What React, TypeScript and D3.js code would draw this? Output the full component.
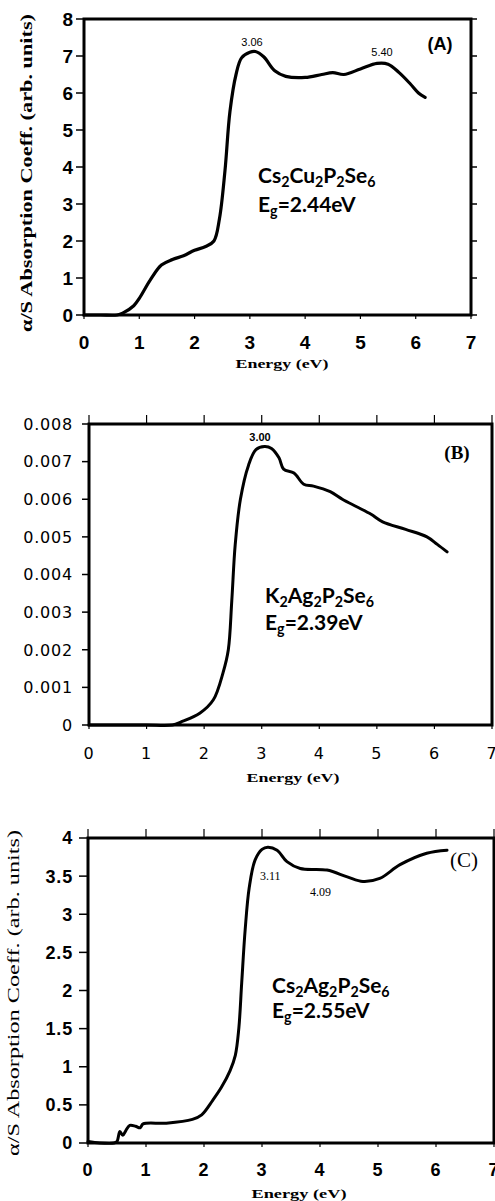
import React from 'react'
import * as d3 from 'd3'

// Panel A: Cs2Cu2P2Se6
const energyA = [0, 0.3, 0.6, 0.7, 0.9, 1.0, 1.2, 1.4, 1.6, 1.8, 2.0, 2.2, 2.35, 2.45, 2.55, 2.64, 2.75, 2.85, 3.0, 3.1, 3.25, 3.45, 3.65, 4.0, 4.3, 4.5, 4.7, 5.0, 5.3, 5.5, 5.7, 5.9, 6.05, 6.17]
const absorbA = [0, 0, 0, 0.05, 0.25, 0.45, 0.95, 1.35, 1.5, 1.6, 1.75, 1.85, 2.0, 2.6, 3.9, 5.5, 6.5, 6.95, 7.1, 7.12, 6.98, 6.6, 6.45, 6.42, 6.5, 6.55, 6.5, 6.65, 6.8, 6.78, 6.55, 6.25, 6.0, 5.88]

// Panel B: K2Ag2P2Se6
const energyB = [0, 0.5, 1.0, 1.45, 1.6, 1.93, 2.16, 2.33, 2.42, 2.48, 2.54, 2.63, 2.77, 2.9, 3.05, 3.17, 3.3, 3.38, 3.56, 3.73, 3.9, 4.19, 4.4, 4.65, 4.9, 5.1, 5.5, 5.87, 6.05, 6.22]
const absorbB = [0, 0, 0, 0, 0.00008, 0.00032, 0.00067, 0.0014, 0.002, 0.0033, 0.0048, 0.006, 0.0069, 0.00732, 0.0074, 0.00735, 0.0071, 0.0068, 0.0067, 0.0064, 0.00635, 0.0062, 0.006, 0.0058, 0.0056, 0.0054, 0.0052, 0.005, 0.0048, 0.0046]

// Panel C: Cs2Ag2P2Se6
const energyC = [0, 0.2, 0.45, 0.5, 0.55, 0.6, 0.65, 0.72, 0.82, 0.9, 0.95, 1.35, 1.8, 1.96, 2.15, 2.3, 2.45, 2.54, 2.6, 2.65, 2.71, 2.78, 2.88, 3.0, 3.1, 3.26, 3.43, 3.66, 4.12, 4.47, 4.74, 5.03, 5.38, 5.84, 6.19]
const absorbC = [0.02, 0, 0, 0.02, 0.15, 0.1, 0.16, 0.23, 0.22, 0.2, 0.25, 0.26, 0.31, 0.37, 0.56, 0.73, 0.95, 1.15, 1.5, 2.1, 2.8, 3.35, 3.71, 3.85, 3.88, 3.84, 3.69, 3.6, 3.58, 3.49, 3.43, 3.47, 3.65, 3.8, 3.84]

const ticksX = [0, 1, 2, 3, 4, 5, 6, 7]
const ticksYA = [0, 1, 2, 3, 4, 5, 6, 7, 8]
const ticksYB = [0, 0.001, 0.002, 0.003, 0.004, 0.005, 0.006, 0.007, 0.008]
const labelsYB = ['0', '0.001', '0.002', '0.003', '0.004', '0.005', '0.006', '0.007', '0.008']
const ticksYC = [0, 0.5, 1, 1.5, 2, 2.5, 3, 3.5, 4]
const labelsYC = ['0', '0.5', '1', '1.5', '2', '2.5', '3', '3.5', '4']

const yTitle = 'α/S Absorption Coeff. (arb. units)'
const xTitle = 'Energy (eV)'

const sans = "'Liberation Sans', Arial, sans-serif"
const serif = "'Liberation Serif', 'Times New Roman', serif"
const humanist = "Lato, 'Open Sans', sans-serif"

const Formula = ({ x, y, parts, size }) => (
  <text x={x} y={y} fontFamily={humanist} fontWeight={700} fontSize={size}>
    {parts.map((p, i) =>
      p.sub ? (
        <tspan key={i} fontSize={size * 0.68} dy={4}>{p.t}</tspan>
      ) : (
        <tspan key={i} dy={i > 0 && parts[i - 1].sub ? -4 : 0}>{p.t}</tspan>
      )
    )}
  </text>
)

const Panel = (props) => {
  const { energy, absorb, xr, yr, ymax, ticksY, labelsY, yLabelStyle, xLabelY, xLabelStyle,
    topTicks, rightTicks, leftTickLen, lineW } = props
  const x = d3.scaleLinear().domain([0, 7]).range(xr)
  const y = d3.scaleLinear().domain([0, ymax]).range(yr)
  const line = d3.line().x((d) => x(d[0])).y((d) => y(d[1])).curve(d3.curveCatmullRom.alpha(0.5))
  const pts = energy.map((e, i) => [e, absorb[i]])
  return (
    <g>
      <path d={line(pts)} fill="none" stroke="#000" strokeWidth={lineW} strokeLinejoin="round" strokeLinecap="round" />
      <rect x={xr[0]} y={yr[1]} width={xr[1] - xr[0]} height={yr[0] - yr[1]} fill="none" stroke="#000" strokeWidth={3} />
      {ticksY.map((t, i) => (
        <g key={'y' + i}>
          <line x1={xr[0] - leftTickLen} x2={xr[0]} y1={y(t)} y2={y(t)} stroke="#000" strokeWidth={1.5} />
          {rightTicks && <line x1={xr[1]} x2={xr[1] + 6} y1={y(t)} y2={y(t)} stroke="#000" strokeWidth={1.5} />}
          <text x={73} y={y(t)} dy="0.36em" textAnchor="end" {...yLabelStyle}>{labelsY ? labelsY[i] : t}</text>
        </g>
      ))}
      {ticksX.map((t) => (
        <g key={'x' + t}>
          <line x1={x(t)} x2={x(t)} y1={yr[0]} y2={yr[0] + 4} stroke="#000" strokeWidth={1.2} />
          {topTicks && <line x1={x(t)} x2={x(t)} y1={yr[1]} y2={yr[1] - 9} stroke="#000" strokeWidth={1.2} />}
          <text x={x(t)} y={xLabelY} dy="0.36em" textAnchor="middle" {...xLabelStyle}>{t}</text>
        </g>
      ))}
    </g>
  )
}

export default function App() {
  const tickA = { fontFamily: sans, fontWeight: 700, fontSize: 19 }
  const tickB = { fontFamily: "'DejaVu Sans', sans-serif", fontSize: 16, letterSpacing: 0.8 }
  const tickC = { fontFamily: sans, fontWeight: 700, fontSize: 18, letterSpacing: 0.8 }
  return (
    <svg width={495} height={1201} style={{ position: 'absolute', left: 0, top: 0, background: '#fff' }}>
      <rect width={495} height={1201} fill="#fff" />

      {/* Panel A */}
      <Panel energy={energyA} absorb={absorbA} xr={[84, 471]} yr={[315, 19]} ymax={8}
        ticksY={ticksYA} yLabelStyle={tickA} xLabelY={342} xLabelStyle={tickA}
        rightTicks leftTickLen={8} lineW={3.2} />
      <text transform="translate(32,173) rotate(-90)" textAnchor="middle" fontFamily={serif} fontWeight={700}
        fontSize={17} textLength={318} lengthAdjust="spacingAndGlyphs">{yTitle}</text>
      <text x={282} y={368} textAnchor="middle" fontFamily={serif} fontWeight={700} fontSize={13}
        textLength={93} lengthAdjust="spacingAndGlyphs">{xTitle}</text>
      <text x={252} y={46} textAnchor="middle" fontFamily={sans} fontSize={11}>3.06</text>
      <text x={382} y={56} textAnchor="middle" fontFamily={sans} fontSize={11}>5.40</text>
      <text x={440} y={50} textAnchor="middle" fontFamily={sans} fontWeight={700} fontSize={18}>(A)</text>
      <Formula x={258} y={183} size={21} parts={[{ t: 'Cs' }, { t: '2', sub: true }, { t: 'Cu' }, { t: '2', sub: true }, { t: 'P' }, { t: '2', sub: true }, { t: 'Se' }, { t: '6', sub: true }]} />
      <Formula x={258} y={212} size={21} parts={[{ t: 'E' }, { t: 'g', sub: true }, { t: '=2.44eV' }]} />

      {/* Panel B */}
      <Panel energy={energyB} absorb={absorbB} xr={[89, 492]} yr={[725, 424]} ymax={0.008}
        ticksY={ticksYB} labelsY={labelsYB} yLabelStyle={tickB} xLabelY={753} xLabelStyle={tickB}
        topTicks leftTickLen={7} lineW={3} />
      <text x={293} y={782} textAnchor="middle" fontFamily={serif} fontWeight={700} fontSize={13}
        textLength={93} lengthAdjust="spacingAndGlyphs">{xTitle}</text>
      <text x={260} y={441} textAnchor="middle" fontFamily={sans} fontWeight={700} fontSize={11}>3.00</text>
      <text x={457} y={459} textAnchor="middle" fontFamily={serif} fontWeight={700} fontSize={19}>(B)</text>
      <Formula x={265} y={603} size={21} parts={[{ t: 'K' }, { t: '2', sub: true }, { t: 'Ag' }, { t: '2', sub: true }, { t: 'P' }, { t: '2', sub: true }, { t: 'Se' }, { t: '6', sub: true }]} />
      <Formula x={265} y={630} size={21} parts={[{ t: 'E' }, { t: 'g', sub: true }, { t: '=2.39eV' }]} />

      {/* Panel C */}
      <Panel energy={energyC} absorb={absorbC} xr={[88, 494]} yr={[1143, 838]} ymax={4}
        ticksY={ticksYC} labelsY={labelsYC} yLabelStyle={tickC} xLabelY={1170} xLabelStyle={tickC}
        topTicks leftTickLen={9} lineW={3} />
      <text transform="translate(19,993) rotate(-90)" textAnchor="middle" fontFamily={serif}
        fontSize={17} textLength={326} lengthAdjust="spacingAndGlyphs">{yTitle}</text>
      <text x={299} y={1198} textAnchor="middle" fontFamily={serif} fontWeight={700} fontSize={13}
        textLength={95} lengthAdjust="spacingAndGlyphs">{xTitle}</text>
      <text x={260} y={880} fontFamily={serif} fontSize={12}>3.11</text>
      <text x={310} y={896} fontFamily={serif} fontSize={12}>4.09</text>
      <text x={450} y={867} fontFamily={serif} fontSize={21}>(C)</text>
      <Formula x={272} y={993} size={21} parts={[{ t: 'Cs' }, { t: '2', sub: true }, { t: 'Ag' }, { t: '2', sub: true }, { t: 'P' }, { t: '2', sub: true }, { t: 'Se' }, { t: '6', sub: true }]} />
      <Formula x={272} y={1018} size={21} parts={[{ t: 'E' }, { t: 'g', sub: true }, { t: '=2.55eV' }]} />
    </svg>
  )
}
